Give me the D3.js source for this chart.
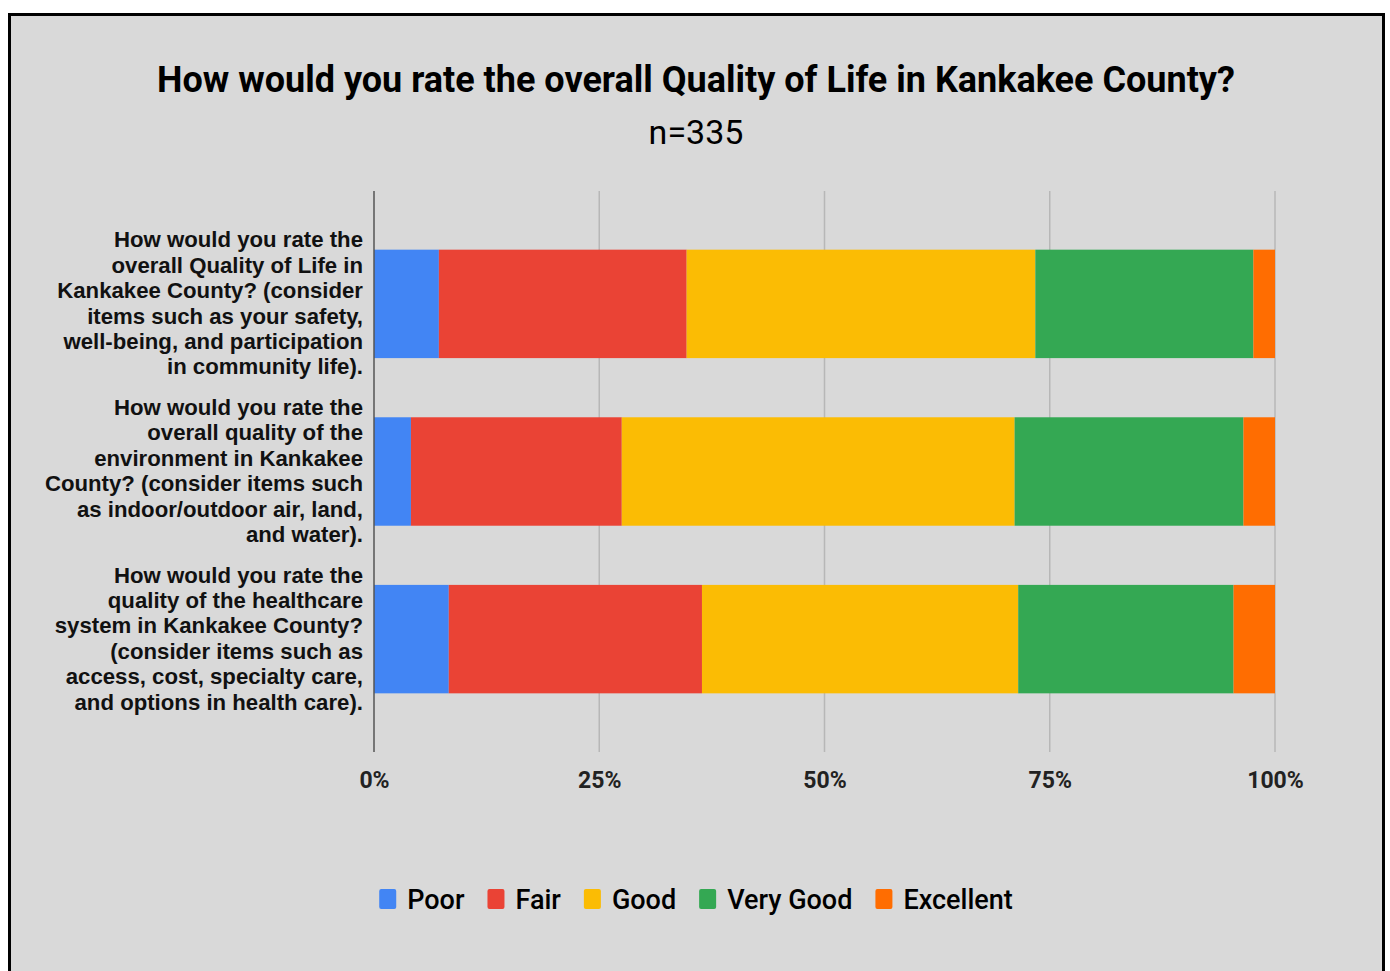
<!DOCTYPE html>
<html>
<head>
<meta charset="utf-8">
<script src="https://cdn.jsdelivr.net/npm/d3@7"></script>
<style>
  body { margin: 0; background: #fff; }
  svg { display: block; font-family: Roboto, "Liberation Sans", Arial, sans-serif; }
</style>
</head>
<body>
<div id="chart"></div>
<script>
// ---- data (percent of respondents, n=335) ----
const questions = ["Quality of Life", "Environment", "Healthcare"];
const questionLines = [
  ["How would you rate the", "overall Quality of Life in", "Kankakee County? (consider",
   "items such as your safety,", "well-being, and participation", "in community life)."],
  ["How would you rate the", "overall quality of the", "environment in Kankakee",
   "County? (consider items such", "as indoor/outdoor air, land,", "and water)."],
  ["How would you rate the", "quality of the healthcare", "system in Kankakee County?",
   "(consider items such as", "access, cost, specialty care,", "and options in health care)."]
];
const ratings = ["Poor", "Fair", "Good", "Very Good", "Excellent"];
const poor = [7.2, 4.1, 8.3];
const fair = [27.5, 23.4, 28.1];
const good = [38.7, 43.6, 35.1];
const veryGood = [24.2, 25.4, 23.9];
const excellent = [2.4, 3.5, 4.6];
const colors = ["#4285f4", "#ea4335", "#fbbc04", "#34a853", "#ff6d01"];
const tickValues = [0, 25, 50, 75, 100];

const W = 1390, H = 971;
const svg = d3.select("#chart").append("svg").attr("width", W).attr("height", H);

// frame
svg.append("rect").attr("x", 9.5).attr("y", 14.5).attr("width", 1374).attr("height", 980)
  .attr("fill", "#d9d9d9").attr("stroke", "#000").attr("stroke-width", 3);

// title
svg.append("text").attr("x", 696).attr("y", 92).attr("text-anchor", "middle")
  .attr("font-size", 36).attr("font-weight", 700).attr("fill", "#000")
  .text("How would you rate the overall Quality of Life in Kankakee County?");
svg.append("text").attr("x", 696).attr("y", 144).attr("text-anchor", "middle")
  .attr("font-size", 34).attr("fill", "#000").text("n=335");

// scales
const x = d3.scaleLinear().domain([0, 100]).range([374, 1275]);
const y = d3.scaleBand().domain(questions).range([191, 752]).paddingInner(0.353).paddingOuter(0.35);

// grid
svg.append("g").selectAll("line").data(tickValues.slice(1)).join("line")
  .attr("x1", d => x(d)).attr("x2", d => x(d)).attr("y1", 191).attr("y2", 752)
  .attr("stroke", "#b7b7b7").attr("stroke-width", 1.5);

// stacked bars
const rows = questions.map((q, i) => ({
  q, Poor: poor[i], Fair: fair[i], Good: good[i], "Very Good": veryGood[i], Excellent: excellent[i]
}));
const series = d3.stack().keys(ratings)(rows);

svg.append("g").selectAll("g").data(series).join("g")
  .attr("fill", (d, i) => colors[i])
  .selectAll("rect").data(d => d).join("rect")
  .attr("x", d => x(d[0]))
  .attr("y", d => y(d.data.q))
  .attr("width", d => x(d[1]) - x(d[0]))
  .attr("height", y.bandwidth());

// axis line
svg.append("line").attr("x1", 374).attr("x2", 374).attr("y1", 191).attr("y2", 752)
  .attr("stroke", "#555").attr("stroke-width", 1.5);

// x tick labels
const xAxis = svg.append("g").attr("transform", "translate(0,752)")
  .call(d3.axisBottom(x).tickValues(tickValues).tickSize(0).tickPadding(0).tickFormat(d => d + "%"));
xAxis.select(".domain").remove();
xAxis.selectAll("text").attr("y", 36).attr("dy", 0)
  .attr("font-size", 23).attr("font-weight", 700).attr("fill", "#222")
  .attr("font-family", "Roboto, 'Liberation Sans', Arial, sans-serif");

// category labels
const lineH = 25.4;
questions.forEach((q, i) => {
  const lines = questionLines[i];
  const cy = y(q) + y.bandwidth() / 2;
  const first = cy + 7 - (lines.length - 1) * lineH / 2;
  const t = svg.append("text").attr("text-anchor", "end")
    .attr("font-family", "'Liberation Sans', Arial, sans-serif")
    .attr("font-size", 22.2).attr("font-weight", 700).attr("fill", "#111");
  lines.forEach((l, j) => {
    t.append("tspan").attr("x", 363).attr("y", first + j * lineH).text(l);
  });
});

// legend
const leg = svg.append("g");
const items = leg.selectAll("g").data(ratings).join("g");
items.append("rect").attr("width", 17).attr("height", 20).attr("y", -20).attr("rx", 2)
  .attr("fill", (d, i) => colors[i]);
items.append("text").attr("x", 28).attr("font-size", 27).attr("font-weight", 500)
  .attr("fill", "#000").text(d => d);
let cx = 0;
items.each(function () {
  const g = d3.select(this);
  g.attr("transform", `translate(${cx},0)`);
  cx += 28 + g.select("text").node().getComputedTextLength() + 23;
});
cx -= 23;
leg.attr("transform", `translate(${696 - cx / 2},909)`);
</script>
</body>
</html>
